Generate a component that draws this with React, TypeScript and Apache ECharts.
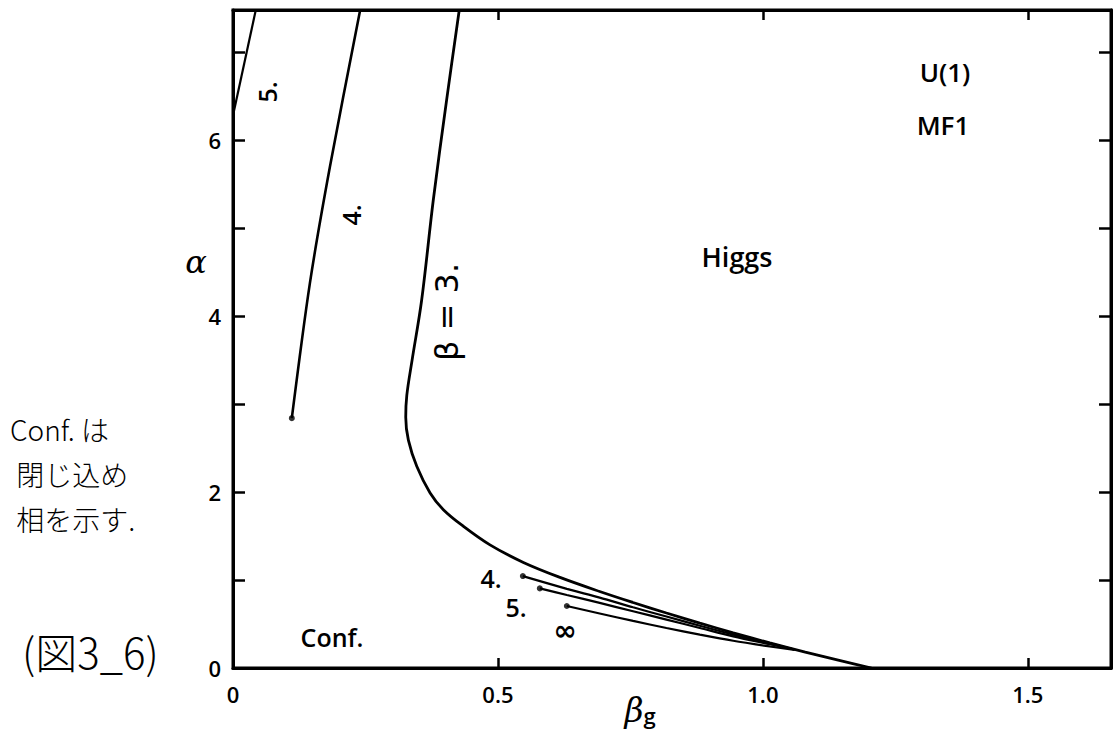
import React, { useEffect, useRef } from "react";
import * as echarts from "echarts";

// ---- data ----
const xTickValues = [0, 0.5, 1.0, 1.5];
const xTickLabels = ["0", "0.5", "1.0", "1.5"];
const yTickValues = [0, 2, 4, 6];
const yTickLabels = ["0", "2", "4", "6"];

// beta = 3 critical line
const beta3Main: [number, number][] = [
  [0.427, 7.48], [0.403, 6.45], [0.378, 5.32], [0.356, 4.18], [0.338, 3.5],
  [0.328, 3.1], [0.326, 2.85], [0.331, 2.59], [0.347, 2.29], [0.372, 1.99],
  [0.397, 1.8], [0.435, 1.61], [0.485, 1.4], [0.548, 1.2], [0.617, 1.03],
  [0.692, 0.87], [0.755, 0.745], [0.818, 0.625], [0.881, 0.51], [0.944, 0.4],
  [1.013, 0.285], [1.08, 0.18], [1.15, 0.078], [1.205, 0.0],
];
// lower branches (beta = 4, 5, infinity)
const beta4Lower: [number, number][] = [
  [0.547, 1.045], [0.63, 0.9], [0.692, 0.8], [0.755, 0.69], [0.818, 0.585],
  [0.881, 0.48], [0.944, 0.38], [1.013, 0.28], [1.06, 0.21],
];
const beta5Lower: [number, number][] = [
  [0.579, 0.905], [0.63, 0.83], [0.692, 0.74], [0.755, 0.645], [0.818, 0.55],
  [0.881, 0.455], [0.944, 0.36], [1.013, 0.27], [1.06, 0.21],
];
const betaInfLower: [number, number][] = [
  [0.63, 0.705], [0.692, 0.62], [0.755, 0.535], [0.818, 0.455], [0.881, 0.38],
  [0.944, 0.31], [1.013, 0.245], [1.06, 0.205],
];
// upper lines
const beta4Upper: [number, number][] = [
  [0.111, 2.84], [0.145, 4.37], [0.183, 5.7], [0.24, 7.48],
];
const beta5Upper: [number, number][] = [
  [0.0, 6.28], [0.043, 7.48],
];
const startDots: [number, number][] = [
  beta4Upper[0], beta4Lower[0], beta5Lower[0], betaInfLower[0],
];

const X_MAX = 1.657;
const Y_MAX = 7.48;

const FONT = "'Open Sans'";

export default function App() {
  const ref = useRef<HTMLDivElement>(null);
  useEffect(() => {
    if (!ref.current) return;
    const chart = echarts.init(ref.current, undefined, { renderer: "svg" });
    const lineSeries = (data: [number, number][], width: number, smooth: number) => ({
      type: "line",
      data,
      symbol: "none",
      smooth,
      lineStyle: { color: "#000", width },
      silent: true,
    });
    const txt = (text: string, x: number, y: number, size: number, extra: any = {}) => ({
      type: "text",
      x,
      y,
      rotation: extra.rotation || 0,
      style: {
        text,
        fill: "#000",
        font: `${extra.style || "normal"} ${extra.weight || 600} ${size}px ${extra.family || FONT}`,
        align: "center",
        verticalAlign: "middle",
      },
    });
    const axisCommon = {
      type: "value",
      axisLine: { show: true, onZero: false, lineStyle: { color: "#000", width: 3 } },
      splitLine: { show: false },
    };
    chart.setOption({
      animation: false,
      backgroundColor: "#fff",
      grid: {
        left: 233,
        right: 3,
        top: 10,
        bottom: 71,
        show: true,
        borderColor: "#000",
        borderWidth: 3,
      },
      xAxis: [
        {
          ...axisCommon,
          position: "bottom",
          min: 0,
          max: X_MAX,
          interval: 0.5,
          axisTick: { show: true, inside: true, length: 10, lineStyle: { color: "#000", width: 2.5 } },
          axisLabel: {
            margin: 15,
            color: "#000",
            fontSize: 22,
            fontWeight: 600,
            fontFamily: FONT,
            formatter: (v: number) => {
              const i = xTickValues.findIndex((t) => Math.abs(t - v) < 1e-6);
              return i >= 0 ? xTickLabels[i] : "";
            },
          },
        },
        {
          ...axisCommon,
          position: "top",
          min: 0,
          max: X_MAX,
          interval: 0.5,
          axisTick: { show: true, inside: true, length: 10, lineStyle: { color: "#000", width: 2.5 } },
          axisLabel: { show: false },
        },
      ],
      yAxis: [
        {
          ...axisCommon,
          position: "left",
          min: 0,
          max: Y_MAX,
          interval: 1,
          axisTick: { show: true, inside: true, length: 12, lineStyle: { color: "#000", width: 2.5 } },
          axisLabel: {
            margin: 12,
            color: "#000",
            fontSize: 22,
            fontWeight: 600,
            fontFamily: FONT,
            formatter: (v: number) => {
              const i = yTickValues.findIndex((t) => Math.abs(t - v) < 1e-6);
              return i >= 0 ? yTickLabels[i] : "";
            },
          },
        },
        {
          ...axisCommon,
          position: "right",
          min: 0,
          max: Y_MAX,
          interval: 1,
          axisTick: { show: true, inside: true, length: 12, lineStyle: { color: "#000", width: 2.5 } },
          axisLabel: { show: false },
        },
      ],
      series: [
        lineSeries(beta3Main, 2.8, 0.35),
        lineSeries(beta4Lower, 2.2, 0.3),
        lineSeries(beta5Lower, 2.2, 0.3),
        lineSeries(betaInfLower, 2.2, 0.3),
        lineSeries(beta4Upper, 2.6, 0.3),
        lineSeries(beta5Upper, 2.2, 0),
        {
          type: "scatter",
          data: startDots,
          symbol: "circle",
          symbolSize: 6,
          itemStyle: { color: "#000" },
          silent: true,
        },
      ],
      graphic: [
        // axis names
        txt("α", 196, 262, 32, { style: "italic", weight: "normal", family: "DejaVu Serif" }),
        {
          type: "text",
          x: 640,
          y: 710,
          style: {
            text: "{b|β}{g|g}",
            fill: "#000",
            align: "center",
            verticalAlign: "middle",
            rich: {
              b: { font: "italic normal 33px DejaVu Serif", fill: "#000", lineHeight: 36 },
              g: { font: `normal 600 22px ${FONT}`, fill: "#000", lineHeight: 24, padding: [10, 0, 0, 0] },
            },
          },
        },
        // region labels
        txt("Higgs", 737, 256, 27),
        txt("Conf.", 332, 637, 25),
        txt("U(1)", 945, 72, 26),
        txt("MF1", 943, 125, 26),
        // curve labels
        txt("5.", 267, 92, 25, { rotation: Math.PI / 2 }),
        txt("4.", 351, 215, 25, { rotation: Math.PI / 2 }),
        txt("β = 3.", 447, 312, 32, { rotation: Math.PI / 2, weight: "normal", family: "DejaVu Sans" }),
        txt("4.", 491, 578, 25),
        txt("5.", 516, 607, 25),
        txt("∞", 565, 630, 28, { weight: "bold", family: "DejaVu Sans" }),
        // handwritten notes
        {
          type: "text",
          x: 10,
          y: 406,
          style: {
            text: "Conf. は\n 閉じ込め\n 相を示す.",
            fill: "#000",
            font: "normal 300 28px 'Noto Sans CJK JP'",
            lineHeight: 45,
            align: "left",
            verticalAlign: "top",
          },
        },
        {
          type: "text",
          x: 22,
          y: 650,
          style: {
            text: "(図3_6)",
            fill: "#000",
            font: "normal 300 42px 'Noto Sans CJK JP'",
            align: "left",
            verticalAlign: "middle",
          },
        },
      ],
    });
    return () => chart.dispose();
  }, []);
  return (
    <div
      ref={ref}
      style={{ position: "absolute", left: 0, top: 0, width: 1114, height: 739, background: "#fff" }}
    />
  );
}
